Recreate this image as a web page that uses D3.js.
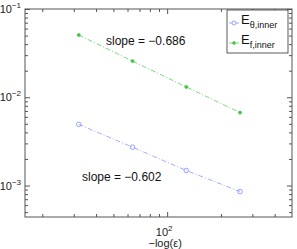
<!DOCTYPE html>
<html>
<head>
<meta charset="utf-8">
<script src="https://cdn.jsdelivr.net/npm/d3@7"></script>
<style>
  body { margin: 0; background: #fff; }
  svg { font-family: "Liberation Sans", Arial, sans-serif; }
  .axis path { display: none; }
  .axis line { stroke: #555; stroke-width: 1; }
</style>
</head>
<body>
<div id="chart"></div>
<script>
// data
const xVals = [32, 64, 128, 256];
const thetaInner = [0.00493, 0.00272, 0.00148, 0.000855];
const fInner = [0.0507, 0.0257, 0.0131, 0.0067];
const slopeLabels = ["slope = \u22120.686", "slope = \u22120.602"];
const xMajor = [100];
const yMajor = [1e-3, 1e-2, 1e-1];

const W = 297, H = 249;
const margin = {top: 9, right: 5, bottom: 32, left: 25};
const width = W - margin.left - margin.right;
const height = H - margin.top - margin.bottom;

const svg = d3.select("#chart").append("svg")
    .attr("width", W)
    .attr("height", H);
const g = svg.append("g")
    .attr("transform", `translate(${margin.left},${margin.top})`);

const x = d3.scaleLog().domain([16, 500]).range([0, width]);
const y = d3.scaleLog().domain([4.4e-4, 0.1]).range([height, 0]);

// minor tick values
const xMinor = [];
[10, 100].forEach(b => { for (let k = 2; k <= 9; k++) { const v = b * k; if (v > 16 && v < 500) xMinor.push(v); } });
const yMinor = [];
[1e-4, 1e-3, 1e-2].forEach(b => { for (let k = 2; k <= 9; k++) { const v = b * k; if (v > 4.4e-4 && v < 0.1) yMinor.push(v); } });

function addAxis(axisFn, scale, vals, size, transform) {
    g.append("g").attr("class", "axis")
        .attr("transform", transform)
        .call(axisFn(scale).tickValues(vals).tickSize(size).tickFormat(""));
}
// bottom/top
addAxis(d3.axisBottom, x, xMinor, -3, `translate(0,${height})`);
addAxis(d3.axisBottom, x, xMajor, -5, `translate(0,${height})`);
addAxis(d3.axisTop, x, xMinor, -3, "translate(0,0)");
addAxis(d3.axisTop, x, xMajor, -5, "translate(0,0)");
// left/right
addAxis(d3.axisLeft, y, yMinor, -3, "translate(0,0)");
addAxis(d3.axisLeft, y, yMajor, -5, "translate(0,0)");
addAxis(d3.axisRight, y, yMinor, -3, `translate(${width},0)`);
addAxis(d3.axisRight, y, yMajor, -5, `translate(${width},0)`);

// box
g.append("rect")
    .attr("width", width).attr("height", height)
    .attr("fill", "none").attr("stroke", "#555").attr("stroke-width", 1);

// tick labels
yMajor.forEach(v => {
    const t = g.append("text")
        .attr("x", -4).attr("y", y(v) + 4)
        .attr("text-anchor", "end")
        .attr("font-size", 11).attr("fill", "#222");
    t.append("tspan").text("10");
    t.append("tspan").attr("font-size", 8).attr("dy", -5).text("\u2212" + Math.round(-Math.log10(v)));
});
xMajor.forEach(v => {
    const t = g.append("text")
        .attr("x", x(v) - 3).attr("y", height + 19)
        .attr("text-anchor", "middle")
        .attr("font-size", 11).attr("fill", "#222");
    t.append("tspan").text("10");
    t.append("tspan").attr("font-size", 8).attr("dy", -5).text(Math.round(Math.log10(v)));
});

g.append("text")
    .attr("x", x(100) - 2).attr("y", height + 30)
    .attr("text-anchor", "middle")
    .attr("font-size", 11).attr("fill", "#222")
    .text("\u2212log(\u03b5)");

// series
const series = [
    {vals: thetaInner, color: "#7d8aff", marker: "circle", name: "\u03b8,inner"},
    {vals: fInner, color: "#45c445", marker: "dot", name: "f,inner"}
];
const line = d3.line().x(d => x(d[0])).y(d => y(d[1]));

series.forEach(s => {
    const pts = xVals.map((xv, i) => [xv, s.vals[i]]);
    g.append("path")
        .datum(pts)
        .attr("d", line)
        .attr("fill", "none")
        .attr("stroke", s.color)
        .attr("stroke-width", 0.7)
        .attr("stroke-dasharray", "5,2,1,2");
    g.selectAll(null).data(pts).enter().append("circle")
        .attr("cx", d => x(d[0])).attr("cy", d => y(d[1]))
        .attr("r", s.marker === "circle" ? 2.3 : 1.5)
        .attr("fill", s.marker === "circle" ? "none" : s.color)
        .attr("stroke", s.color)
        .attr("stroke-width", 0.8);
});

// slope annotations
g.append("text").attr("x", 81).attr("y", 36)
    .attr("font-size", 12).attr("fill", "#111").text(slopeLabels[0]);
g.append("text").attr("x", 57).attr("y", 172)
    .attr("font-size", 12).attr("fill", "#111").text(slopeLabels[1]);

// legend
const lg = g.append("g").attr("transform", `translate(${227 - margin.left},${10 - margin.top})`);
lg.append("rect").attr("width", 61).attr("height", 43)
    .attr("fill", "#fff").attr("stroke", "#333").attr("stroke-width", 0.8);
series.forEach((s, i) => {
    const cy = 13 + i * 20;
    lg.append("line").attr("x1", 2).attr("x2", 12).attr("y1", cy).attr("y2", cy)
        .attr("stroke", s.color).attr("stroke-width", 0.7).attr("stroke-dasharray", "3,1.5,1,1.5");
    lg.append("circle").attr("cx", 7).attr("cy", cy)
        .attr("r", s.marker === "circle" ? 2 : 1.4)
        .attr("fill", s.marker === "circle" ? "#fff" : s.color)
        .attr("stroke", s.color).attr("stroke-width", 0.8);
    const t = lg.append("text").attr("x", 14).attr("y", cy + 1)
        .attr("font-size", 13).attr("fill", "#111");
    t.append("tspan").text("E");
    t.append("tspan").attr("font-size", 9).attr("dy", 4).text(s.name);
});
</script>
</body>
</html>
